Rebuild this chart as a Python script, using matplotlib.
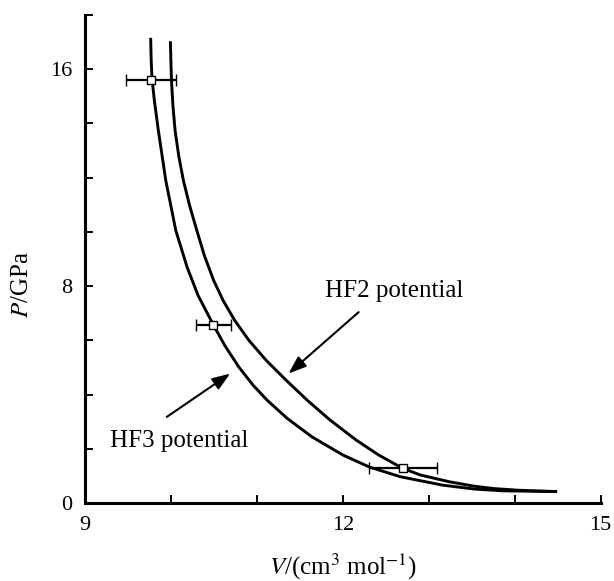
import matplotlib
matplotlib.use("Agg")
import matplotlib.pyplot as plt
from matplotlib.ticker import FixedLocator, FuncFormatter

plt.rcParams['font.family'] = ['Liberation Serif', 'DejaVu Serif']
plt.rcParams['mathtext.fontset'] = 'stix'

# HF3 potential curve (V in cm^3/mol, P in GPa)
hf3_V = [9.7646, 9.7704, 9.7809, 9.8077, 9.8543, 9.9406, 10.0571, 10.1888, 10.3159,
         10.4953, 10.6259, 10.7902, 10.9569, 11.1200, 11.3508, 11.6410, 12.0035,
         12.3112, 12.6725, 13.1562, 13.5291, 13.8648, 14.4779]
hf3_P = [17.103, 16.305, 15.631, 14.832, 13.728, 11.888, 10.048, 8.697, 7.656,
         6.562, 5.815, 5.017, 4.343, 3.791, 3.128, 2.440, 1.767,
         1.325, 0.968, 0.662, 0.515, 0.449, 0.423]

# HF2 potential curve
hf2_V = [9.9942, 10.0058, 10.0233, 10.0490, 10.0909, 10.1457, 10.2179, 10.3019,
         10.3893, 10.4977, 10.6072, 10.7424, 10.9079, 11.1084, 11.3415, 11.5862,
         11.8543, 12.1573, 12.4196, 12.6923, 12.9044, 13.2401, 13.5163, 13.7494,
         14.0641, 14.4779]
hf2_P = [16.978, 15.631, 14.649, 13.728, 12.808, 11.888, 10.968, 10.048,
         9.128, 8.208, 7.472, 6.735, 6.000, 5.263, 4.527, 3.791,
         3.055, 2.319, 1.767, 1.288, 1.031, 0.784, 0.626, 0.534,
         0.467, 0.423]

# Experimental points with volume error bars
exp_V = [9.77, 10.495, 12.70]
exp_P = [15.62, 6.57, 1.29]
exp_Verr = [0.29, 0.20, 0.40]

x_ticks = [9, 10, 11, 12, 13, 14, 15]
x_labels = {9: '9', 12: '12', 15: '15'}
y_ticks = [0, 2, 4, 6, 8, 10, 12, 14, 16, 18]
y_labels = {0: '0', 8: '8', 16: '16'}

fig = plt.figure(figsize=(6.14, 5.81), dpi=100)
ax = fig.add_axes([85/614, 1-503/581, (600.5-85)/614, (503-15)/581])

ax.plot(hf3_V, hf3_P, color='k', lw=2.1, solid_joinstyle='round')
ax.plot(hf2_V, hf2_P, color='k', lw=2.1, solid_joinstyle='round')
ax.errorbar(exp_V, exp_P, xerr=exp_Verr, fmt='s', mfc='white', mec='k', mew=1.0,
            ms=5.5, ecolor='k', elinewidth=1.6, capsize=4, capthick=1.6, zorder=5)

ax.set_xlim(9, 15)
ax.set_ylim(0, 18)

for s in ['top', 'right']:
    ax.spines[s].set_visible(False)
for s in ['left', 'bottom']:
    ax.spines[s].set_linewidth(2.2)

ax.xaxis.set_major_locator(FixedLocator(x_ticks))
ax.yaxis.set_major_locator(FixedLocator(y_ticks))
ax.xaxis.set_major_formatter(FuncFormatter(lambda v, p: x_labels.get(int(round(v)), '')))
ax.yaxis.set_major_formatter(FuncFormatter(lambda v, p: y_labels.get(int(round(v)), '')))
ax.tick_params(direction='in', length=5.5, width=1.4, labelsize=16, colors='k')
ax.tick_params(axis='x', pad=9)
ax.tick_params(axis='y', pad=9)

ax.set_xlabel(r'$V$/(cm$^3$ mol$^{-1}$)', fontsize=18)
ax.set_ylabel(r'$P$/GPa', fontsize=18)
ax.xaxis.set_label_coords(0.5, -0.10)
ax.yaxis.set_label_coords(-0.10, 0.447)

ax.text(11.797, 7.59, 'HF2 potential', fontsize=18, ha='left', va='baseline')
ax.text(9.291, 2.07, 'HF3 potential', fontsize=18, ha='left', va='baseline')

arrow = dict(arrowstyle='-|>,head_length=0.6,head_width=0.22', color='k', lw=1.5,
             mutation_scale=18, shrinkA=0, shrinkB=0)
ax.annotate('', xy=(11.369, 4.774), xytext=(12.185, 7.04), arrowprops=arrow)
ax.annotate('', xy=(10.690, 4.774), xytext=(9.952, 3.176), arrowprops=arrow)

fig.savefig('out.png', dpi=100)
